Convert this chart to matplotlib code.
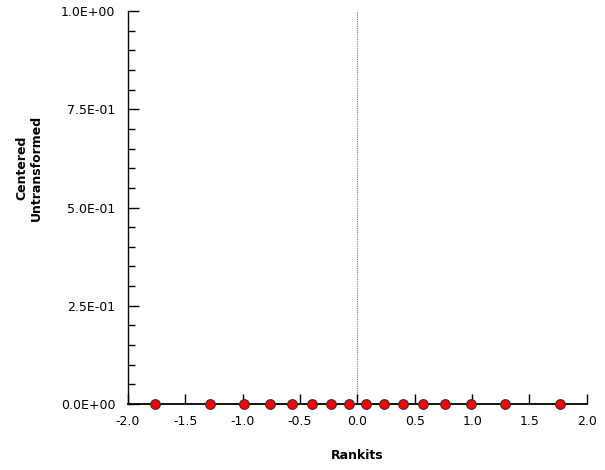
import matplotlib.pyplot as plt
from matplotlib.ticker import MultipleLocator, FuncFormatter

# normal scores for 16 observations and their centered values
rankits = [-1.766, -1.284, -0.990, -0.763, -0.570, -0.396, -0.234, -0.077,
           0.077, 0.234, 0.396, 0.570, 0.763, 0.990, 1.284, 1.766]
centered = [0.0] * 16

x_ticks = [-2.0, -1.5, -1.0, -0.5, 0.0, 0.5, 1.0, 1.5, 2.0]
y_ticks = [0.0, 0.25, 0.5, 0.75, 1.0]

plt.rcParams['font.family'] = 'DejaVu Sans'

fig = plt.figure(figsize=(6.05, 4.70), dpi=100)
ax = fig.add_axes([0.2116, 0.1404, 0.7584, 0.8362])

ax.axvline(0, color='#777777', lw=0.8, ls=(0, (1, 1)), zorder=1)
ax.plot(rankits, centered, 'o', color='red', markeredgecolor='#333333',
        markeredgewidth=0.8, markersize=7, clip_on=False, zorder=3)

ax.set_xlim(-2.0, 2.0)
ax.set_ylim(0, 1.0)
ax.set_xticks(x_ticks)
ax.set_yticks(y_ticks)
ax.yaxis.set_minor_locator(MultipleLocator(0.05))
ax.xaxis.set_major_formatter(FuncFormatter(lambda v, p: '%.1f' % v))
ax.yaxis.set_major_formatter(FuncFormatter(lambda v, p: '%.1E' % v))

for side in ['top', 'right']:
    ax.spines[side].set_visible(False)
ax.spines['left'].set_linewidth(1.0)
ax.spines['bottom'].set_linewidth(1.3)

ax.tick_params(axis='x', direction='in', length=7, width=1, labelsize=9, pad=8)
ax.tick_params(axis='y', which='major', direction='in', length=8, width=1,
               labelsize=9, pad=9)
ax.tick_params(axis='y', which='minor', direction='in', length=5, width=1)

ax.set_xlabel('Rankits', fontsize=9, fontweight='bold', labelpad=15)
ax.set_ylabel('Centered\nUntransformed', fontsize=9, fontweight='bold',
              labelpad=13, y=0.6)

fig.savefig('out.png', dpi=100)
